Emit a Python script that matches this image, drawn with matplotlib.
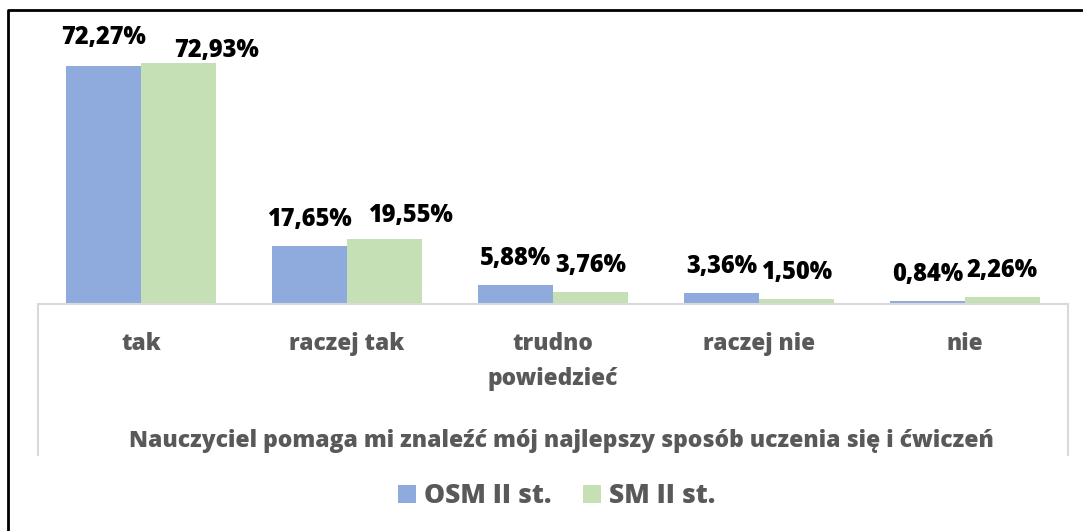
import matplotlib

matplotlib.use("Agg")

import matplotlib.pyplot as plt
import numpy as np
from matplotlib.lines import Line2D
from matplotlib.patches import Patch

plt.rcParams["font.family"] = ["Open Sans", "DejaVu Sans"]

categories = ["tak", "raczej tak", "trudno\npowiedzieć", "raczej nie", "nie"]
osm_values = [72.27, 17.65, 5.88, 3.36, 0.84]
sm_values = [72.93, 19.55, 3.76, 1.50, 2.26]
series_names = ["OSM II st.", "SM II st."]
group_title = "Nauczyciel pomaga mi znaleźć mój najlepszy sposób uczenia się i ćwiczeń"

# manual label nudges (pixels), as placed in the original chart
osm_shift = [(0, 2), (0, 0), (0, 0), (0, 0), (0, 0)]
sm_shift = [(38, -14), (26, -3), (0, 0), (0, 0), (0, 0)]

BLUE = "#8faadc"
GREEN = "#c5e0b4"
GRAY = "#595959"
W, H = 1083, 531

fig = plt.figure(figsize=(W / 100, H / 100), dpi=100)
ax = fig.add_axes([38 / W, (H - 304) / H, 1030 / W, 264 / H])

x = np.arange(len(categories))
bw = 0.364
bars_osm = ax.bar(x - bw / 2, osm_values, bw, color=BLUE, linewidth=0)
bars_sm = ax.bar(x + bw / 2, sm_values, bw, color=GREEN, linewidth=0)

for bars, values, shifts in [(bars_osm, osm_values, osm_shift), (bars_sm, sm_values, sm_shift)]:
    for bar, value, (dx, dy) in zip(bars, values, shifts):
        ax.annotate(
            f"{value:.2f}%".replace(".", ","),
            (bar.get_x() + bar.get_width() / 2, bar.get_height()),
            xytext=(dx, 20 + dy),
            textcoords="offset pixels",
            ha="center",
            va="baseline",
            fontsize=17,
            fontweight=800,
            color="black",
        )

ax.set_xlim(-0.5, len(categories) - 0.5)
ax.set_ylim(0, 80)
ax.set_yticks([])
ax.set_xticks(x)
ax.set_xticklabels(categories, fontsize=16.3, fontweight=800, color=GRAY, linespacing=1.6)
ax.tick_params(axis="x", length=0, pad=20)
for side in ["top", "left", "right"]:
    ax.spines[side].set_visible(False)
ax.spines["bottom"].set_color("#d9d9d9")
ax.spines["bottom"].set_linewidth(1.5)

# category box sides
for px in [38, 1068]:
    fig.add_artist(Line2D([px / W, px / W], [(H - 305) / H, (H - 455) / H],
                          color="#d9d9d9", linewidth=1.5))

fig.text(561 / W, (H - 447) / H, group_title, ha="center", va="baseline",
         fontsize=16.5, fontweight=800, color=GRAY)

handles = [Patch(facecolor=BLUE), Patch(facecolor=GREEN)]
fig.legend(handles, series_names, loc="center", bbox_to_anchor=(557 / W, (H - 496) / H),
           ncol=2, frameon=False, handlelength=0.68, handleheight=0.68, handletextpad=0.3,
           columnspacing=1.2, prop={"size": 19, "weight": 800}, labelcolor=GRAY)

# outer chart frame (left and top edges only visible)
fig.add_artist(Line2D([8 / W, 8 / W, 1.0], [0.0, (H - 10) / H, (H - 10) / H],
                      color="black", linewidth=2))

plt.savefig("out.png", dpi=100)
